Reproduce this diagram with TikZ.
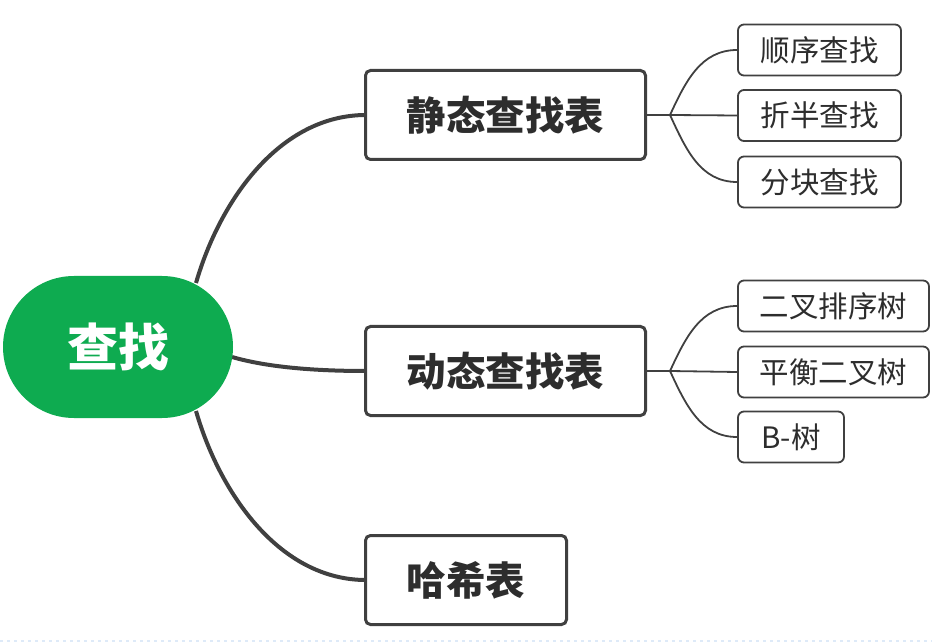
\documentclass[tikz,border=0pt]{standalone}
\usepackage{fontspec}
\newfontfamily\cjk{Noto Sans CJK SC}
\usetikzlibrary{shapes.misc,calc}
\definecolor{rootgreen}{RGB}{14,171,80}
\definecolor{linegray}{RGB}{64,64,64}
\definecolor{textgray}{RGB}{45,45,45}
\definecolor{dotblue}{RGB}{222,234,248}
\tikzset{
  rootnode/.style={rounded rectangle, fill=rootgreen, minimum width=230pt, minimum height=142pt, inner sep=0pt,
    text=white, font=\cjk\bfseries\fontsize{51pt}{55pt}\selectfont},
  branchbox/.style={draw=linegray, line width=3pt, rounded corners=5pt, fill=white, minimum height=89pt, inner sep=0pt,
    text=textgray, font=\cjk\bfseries\fontsize{39.5pt}{42pt}\selectfont},
  leafbox/.style={draw=linegray, line width=1.8pt, rounded corners=6pt, fill=white, minimum height=51pt, inner sep=0pt,
    text=textgray, font=\cjk\fontsize{29.5pt}{32pt}\selectfont},
  mainlink/.style={draw=linegray, line width=4pt},
  leaflink/.style={draw=linegray, line width=1.8pt},
}
\begin{document}
\begin{tikzpicture}[x=1pt,y=1pt]
\useasboundingbox (0,0) rectangle (932,-644);
\draw[dotblue, line width=2.5pt, dash pattern=on 3pt off 4pt] (0,-641) -- (932,-641);

% connectors from root
\coordinate (r1) at (196,-283);
\coordinate (r2) at (232,-357);
\coordinate (r3) at (196,-411);
\coordinate (s1) at (366,-115);
\coordinate (s2) at (366,-371);
\coordinate (s3) at (366,-580);
\draw[mainlink] (r1) .. controls (220,-200) and (280,-115) .. (s1);
\draw[mainlink] (r2) .. controls (270,-368) and (320,-371) .. (s2);
\draw[mainlink] (r3) .. controls (220,-494) and (280,-580) .. (s3);

\node[rootnode] (root) at (118,-347) {查找};

\node[branchbox, minimum width=280pt] (static) at (505.5,-115) {静态查找表};
\node[branchbox, minimum width=280pt] (dynamic) at (505.5,-371) {动态查找表};
\node[branchbox, minimum width=201pt] (hash) at (466,-580) {哈希表};

\node[leafbox, minimum width=163pt] (l1) at (819.5,-50) {顺序查找};
\node[leafbox, minimum width=163pt] (l2) at (819.5,-115.5) {折半查找};
\node[leafbox, minimum width=163pt] (l3) at (819.5,-182) {分块查找};
\node[leafbox, minimum width=191pt] (m1) at (833.5,-306) {二叉排序树};
\node[leafbox, minimum width=191pt] (m2) at (833.5,-372) {平衡二叉树};
\node[leafbox, minimum width=106pt] (m3) at (791,-437) {B-树};

\coordinate (js) at ($(static.east)+(23,0)$);
\coordinate (jd) at ($(dynamic.east)+(23,0)$);
\draw[leaflink] (static.east) -- (js);
\draw[leaflink] (dynamic.east) -- (jd);
\draw[leaflink] (js) to[out=65,in=180] (l1.west);
\draw[leaflink] (js) -- (l2.west);
\draw[leaflink] (js) to[out=-65,in=180] (l3.west);
\draw[leaflink] (jd) to[out=65,in=180] (m1.west);
\draw[leaflink] (jd) -- (m2.west);
\draw[leaflink] (jd) to[out=-65,in=180] (m3.west);
\end{tikzpicture}
\end{document}
